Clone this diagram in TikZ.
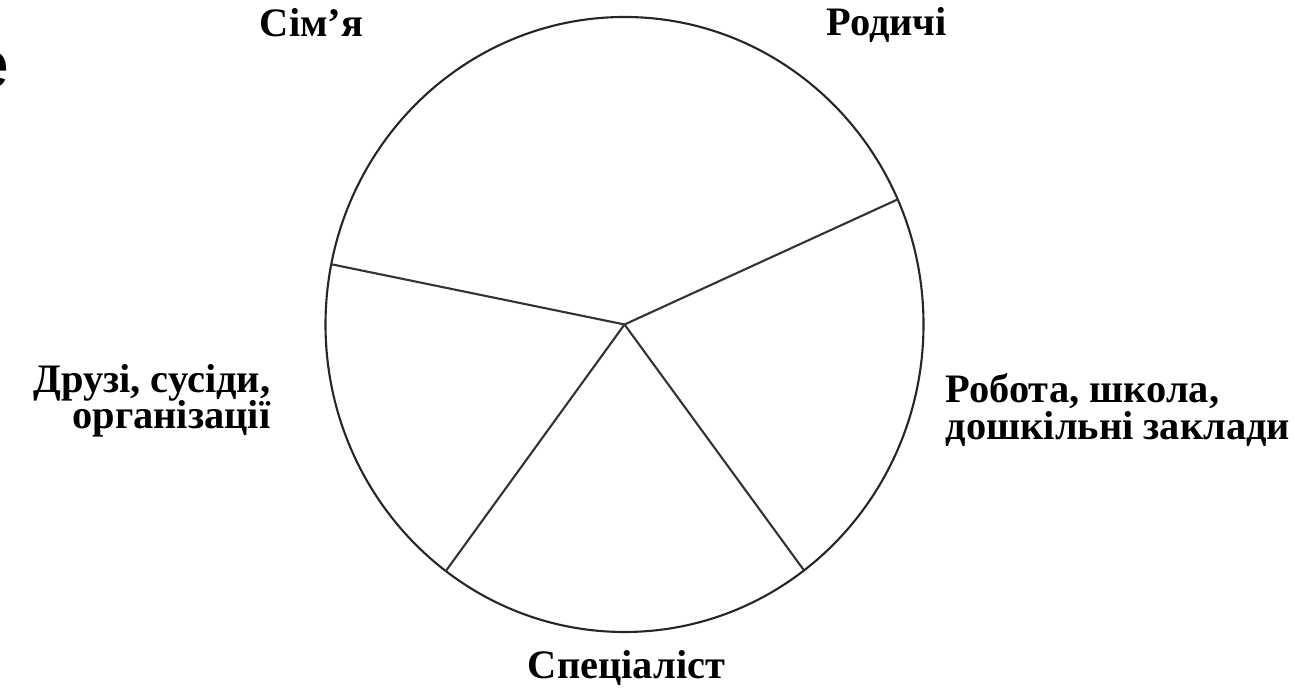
\documentclass[tikz,border=0pt]{standalone}
\usepackage{fontspec}
\setmainfont{Liberation Serif}
\setsansfont{Liberation Sans}
\usetikzlibrary{positioning, calc}

\begin{document}
\begin{tikzpicture}[
    sector/.style={font=\bfseries\fontsize{11.5}{8.6}\selectfont, inner sep=0pt},
    rim/.style={draw=black!85, line width=0.6pt},
    spoke/.style={black!80, line width=0.6pt}
  ]
  \useasboundingbox (0,0) rectangle (12.94,6.88);

  % circle and hub
  \coordinate (O) at (6.245,3.635);
  \draw[rim] (O) ellipse [x radius=2.99, y radius=3.075];
  \coordinate (S1) at ($(O)+(168.7:2.99 and 3.075)$);
  \coordinate (S2) at ($(O)+(24.0:2.99 and 3.075)$);
  \coordinate (S3) at ($(O)+(-53.1:2.99 and 3.075)$);
  \coordinate (S4) at ($(O)+(-126.7:2.99 and 3.075)$);

  \draw[spoke] (O) -- (S1);
  \draw[spoke] (O) -- (S2);
  \draw[spoke] (O) -- (S3);
  \draw[spoke] (O) -- (S4);

  % labels
  \node[sector, anchor=base] (family) at (3.115,6.51) {Сім’я};
  \node[sector, anchor=base] (relatives) at (8.865,6.52) {Родичі};
  \node[sector, anchor=base] (specialist) at (6.265,0.09) {Спеціаліст};
  \node[sector, align=right, anchor=base east] (friends) at (2.71,2.59) {Друзі, сусіди,\\[-1pt]організації};
  \node[sector, align=left, anchor=base west] (work) at (9.45,2.48) {Робота, школа,\\[0pt]дошкільні заклади};

  \node[font=\sffamily\fontsize{19}{19}\selectfont, anchor=base east, inner sep=0pt] (cut) at (0.10,6.00) {e};
\end{tikzpicture}
\end{document}
